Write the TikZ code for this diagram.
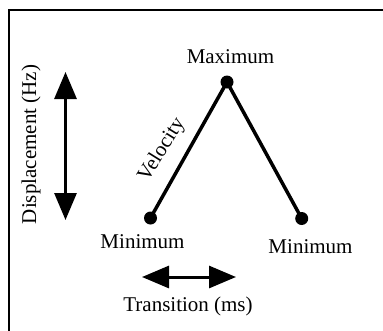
\documentclass[tikz,border=0pt]{standalone}
\usepackage{fontspec}
\setmainfont{Liberation Serif}
\usetikzlibrary{arrows.meta}
\begin{document}
\begin{tikzpicture}[x=1pt,y=-1pt,
  lbl/.style={font=\fontsize{21}{25}\selectfont, inner sep=0pt},
  seg/.style={line width=3.5pt},
  dbl/.style={line width=3pt, {Triangle[length=27pt,width=22pt]}-{Triangle[length=27pt,width=22pt]}},
  dotnode/.style={circle, fill, inner sep=0pt, minimum size=13pt}]
\useasboundingbox (0,0) rectangle (383,330);
\clip (0,0) rectangle (383,330);
\fill[white] (0,0) rectangle (383,330);
\draw[line width=2pt] (9,10) rectangle (400,350);
\node[dotnode] (max) at (227,82) {};
\node[dotnode] (minl) at (150.5,218) {};
\node[dotnode] (minr) at (301.7,218.5) {};
\draw[seg] (minl.center) -- (max.center) -- (minr.center);
\node[lbl, anchor=base] (tmax) at (230.5,63) {Maximum};
\node[lbl, anchor=base] (tminl) at (142.5,248) {Minimum};
\node[lbl, anchor=base] (tminr) at (310.5,253) {Minimum};
\node[lbl, rotate=90] (tdisp) at (31,144.5) {Displacement (Hz)};
\node[lbl, rotate=58] (tvel) at (162,150) {Velocity};
\node[lbl, anchor=base] (ttrans) at (188,311) {Transition (ms)};
\coordinate (vt) at (65.5,72);
\coordinate (vb) at (65.5,220);
\draw[dbl] (vt) -- (vb);
\coordinate (hl) at (142,277);
\coordinate (hr) at (236,277);
\draw[dbl] (hl) -- (hr);
\end{tikzpicture}
\end{document}
